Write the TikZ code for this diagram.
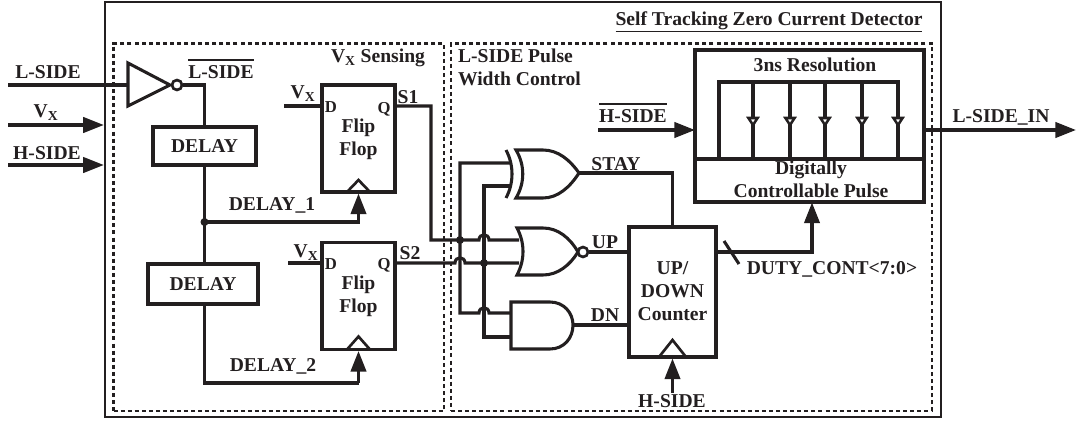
\documentclass[tikz,border=0pt]{standalone}
\usepackage{fontspec}
\setmainfont{Liberation Serif}
\usetikzlibrary{arrows.meta,calc}
\definecolor{ink}{HTML}{231F20}
\newcommand{\barred}[1]{\vbox{\hrule height 1.3pt\kern 4pt\hbox{#1}}}
\tikzset{
  wire/.style={draw=ink,line width=2.3pt,line join=miter},
  thinbox/.style={draw=ink,line width=1.7pt},
  dashbox/.style={draw=ink,line width=1.6pt,dash pattern=on 3pt off 2.3pt},
  block/.style={draw=ink,line width=2.3pt,inner sep=0pt,outer sep=0pt,align=center},
  sz/.style 2 args={minimum width=#1*0.75pt,minimum height=#2*0.75pt},
  lbl/.style={inner sep=0pt,outer sep=0pt,text=ink,align=center,font=\bfseries\fontsize{14.7}{17}\selectfont},
  small/.style={lbl,font=\bfseries\fontsize{12.5}{14}\selectfont},
  arr/.style={wire,-{Triangle[length=15.5pt,width=11.5pt]}},
  junction/.style={circle,fill=ink,inner sep=0pt,minimum size=6pt},
  bubble/.style={circle,draw=ink,line width=2pt,fill=white,inner sep=0pt,minimum size=7.5pt},
  gate/.style={draw=ink,line width=2.3pt,fill=white,line join=miter},
  clk/.style={draw=ink,line width=2pt,line join=miter},
  tap/.style={draw=ink,line width=1.9pt,fill=white,line join=miter}
}
\begin{document}
\begin{tikzpicture}[x=0.75pt,y=-0.75pt]
\path[use as bounding box] (0,0) rectangle (1076,421);
% frames
\node[thinbox,inner sep=0pt,sz={836}{415}] (outer) at (523,209.5) {};
\node[dashbox,inner sep=0pt,sz={330.5}{367.5}] (sensebox) at (278.75,227.25) {};
\node[dashbox,inner sep=0pt,sz={481}{367.5}] (pulsebox) at (691.5,227.25) {};
% blocks
\node[block,sz={103}{38},text=ink,font=\bfseries\fontsize{14.7}{17}\selectfont] (delayA) at (204.5,146) {DELAY};
\node[block,sz={110}{40},text=ink,font=\bfseries\fontsize{14.7}{17}\selectfont] (delayB) at (203,284) {DELAY};
\node[block,sz={73}{107}] (ffA) at (358.5,138.5) {};
\node[block,sz={73}{107}] (ffB) at (358.5,296) {};
\node[block,sz={87}{130}] (cnt) at (672.5,292) {};
\node[block,sz={229}{152}] (pulse) at (809.5,126) {};
% port coordinates
\coordinate (invIn) at (128,85);
\coordinate (xorA) at (510,163);
\coordinate (xorB) at (510,186);
\coordinate (xorOut) at (579,173);
\coordinate (norA) at (519,240);
\coordinate (norB) at (519,263);
\coordinate (norOut) at (583,252);
\coordinate (andA) at (511,313);
\coordinate (andB) at (511,337);
\coordinate (andOut) at (573,325);
\coordinate (inL) at (8,85);
\coordinate (inV) at (8,125);
\coordinate (inH) at (8,165);
\coordinate (inVa) at (284,106);
\coordinate (inVb) at (288,263);
\coordinate (inHbar) at (598,130);
\coordinate (inHcnt) at (672.5,393);
\coordinate (out) at (1076,130);
% inputs
\draw[wire] (inL) -- (invIn);
\draw[arr] (inV) -- (inV -| outer.west);
\draw[arr] (inH) -- (inH -| outer.west);
% inverter
\draw[gate] (128,63) -- (128,106) -- (170,85) -- cycle;
\node[bubble] (invB) at (177,85) {};
\draw[wire] (invB.east) -| (delayA.north);
% delay chain
\draw[wire] (delayA.south) -- (delayA.south |- delayB.north);
\node[junction] (tapd) at (204.5,222) {};
\draw[arr] (tapd.center) -| ($(ffA.south)+(0,1.5)$);
\draw[wire] (delayA.south |- delayB.south) -- (204.5,383) coordinate (dl) -- (358.5,383) coordinate (dr);
\draw[arr] (dr) -- ($(ffB.south)+(0,1.5)$);
% flip flop clocks
\draw[clk] (347,192) -- (358.5,180) -- (370,192);
\draw[clk] (347,349.5) -- (358.5,336.5) -- (370,349.5);
\draw[clk] (659,357) -- (672.5,340) -- (686,357);
% D inputs
\draw[wire] (inVa) -- (inVa -| ffA.west);
\draw[wire] (inVb) -- (inVb -| ffB.west);
% Q outputs and crossings
\draw[wire] (ffA.east |- inVa) -- (431,106) -- (431,240) -- (479,240)
  .. controls (479,233) and (489,233) .. (489,240) -- (norA);
\draw[wire] (ffB.east |- inVb) -- (455,263)
  .. controls (455,256) and (465,256) .. (465,263) -- (norB);
\draw[wire] (xorA) -- (460,163) -- (460,313) -- (479,313)
  .. controls (479,306) and (489,306) .. (489,313) -- (andA);
\draw[wire] (xorB) -- (484,186) -- (484,337) -- (andB);
\node[junction] (j1) at (460,240) {};
\node[junction] (j2) at (484,263) {};
% XOR
\draw[wire,fill=none] (506,150) .. controls (514,165) and (514,183) .. (506,198);
\draw[gate] (516,150) -- (543,150) .. controls (558,150) and (570,160) .. (579,173)
  .. controls (570,187) and (558,198) .. (543,198) -- (516,198)
  .. controls (525,183) and (525,165) .. (516,150) -- cycle;
% NOR
\draw[gate] (517,228) -- (543,228) .. controls (558,228) and (570,238) .. (578,252)
  .. controls (570,265) and (558,275) .. (543,275) -- (517,275)
  .. controls (525,260) and (525,243) .. (517,228) -- cycle;
\node[bubble] (norBub) at (583,252) {};
% AND
\draw[gate] (511,302) -- (550,302) .. controls (564,302) and (573,313) .. (573,325)
  .. controls (573,338) and (564,349) .. (550,349) -- (511,349) -- cycle;
% logic outputs
\draw[wire] (xorOut) -| (cnt.north);
\draw[wire] (norBub.east) -- (norBub.east -| cnt.west);
\draw[wire] (andOut) -- (andOut -| cnt.west);
\draw[arr] (inHcnt) -- ($(cnt.south)+(0,1.5)$);
% counter output
\draw[arr] (cnt.east |- norOut) -- (812,252) -- (812,202.5);
\coordinate (busA) at (724,241);
\coordinate (busB) at (739,264);
\draw[wire] (busA) -- (busB);
% pulse block
\draw[arr] (inHbar) -- (inHbar -| pulse.west);
\draw[wire] (pulse.west |- 0,159) -- (pulse.east |- 0,159);
\draw[wire] (719,159) -- (719,82) -- (898,82) -- (898,159);
\foreach \tx in {753,790,825,862,898}{
  \ifnum\tx=898\else\draw[wire] (\tx,82) -- (\tx,159);\fi
  \draw[tap] (\tx-4.6,118) -- (\tx+4.6,118) -- (\tx,125) -- cycle;
}
\draw[arr] (pulse.east |- out) -- (out);
% labels
\node[lbl] (tL) at (48,72) {L-SIDE};
\node[lbl] (tV) at (46,113) {V\textsubscript{X}};
\node[lbl] (tH) at (47,153) {H-SIDE};
\node[lbl] (tLb) at (221,69) {\barred{L-SIDE}};
\node[lbl] (tSense) at (378,58) {V\textsubscript{X} Sensing};
\node[lbl,align=left,anchor=north west] (tWidth) at (458,49) {L-SIDE Pulse\\Width Control};
\node[lbl] (tTitle) at (769,22) {\underline{Self Tracking Zero Current Detector}};
\node[lbl] (tFa) at (358.5,139) {Flip\\Flop};
\node[lbl] (tFb) at (358.5,296) {Flip\\Flop};
\node[small] (tDa) at (331,107) {D};
\node[small] (tQa) at (384,109) {Q};
\node[small] (tDb) at (331,264) {D};
\node[small] (tQb) at (384,265) {Q};
\node[lbl] (tS1) at (408,97) {S1};
\node[lbl] (tS2) at (410,253) {S2};
\node[lbl] (tVa) at (303,94) {V\textsubscript{X}};
\node[lbl] (tVb) at (306,252.5) {V\textsubscript{X}};
\node[lbl] (tD1) at (272,205) {DELAY\_1};
\node[lbl] (tD2) at (273,366) {DELAY\_2};
\node[lbl] (tStay) at (616,164) {STAY};
\node[lbl] (tUp) at (605,242) {UP};
\node[lbl] (tDn) at (605,315) {DN};
\node[lbl] (tCnt) at (672.5,291) {UP/\\DOWN\\Counter};
\node[lbl] (tHc) at (672,401) {H-SIDE};
\node[lbl] (tDuty) at (832,269) {DUTY\_CONT<7:0>};
\node[lbl] (tHb) at (633,113) {\barred{H-SIDE}};
\node[lbl] (tRes) at (815,65) {3ns Resolution};
\node[lbl] (tDig) at (811,179.5) {Digitally\\Controllable Pulse};
\node[lbl] (tOut) at (1001,117) {L-SIDE\_IN};
\end{tikzpicture}
\end{document}
